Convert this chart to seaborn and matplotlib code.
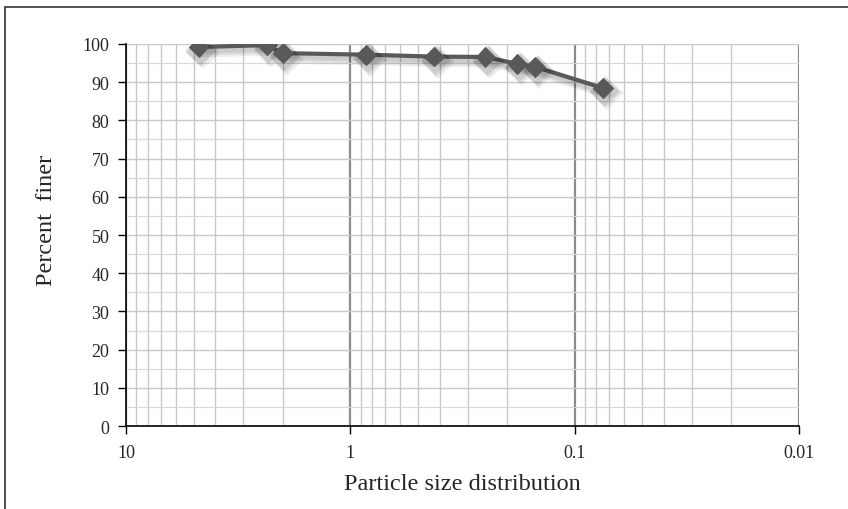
import matplotlib
matplotlib.use("Agg")
import matplotlib.pyplot as plt
import matplotlib.patheffects as pe
from matplotlib.patches import Rectangle
from matplotlib.ticker import LogLocator, FixedLocator, MultipleLocator
import seaborn as sns
import pandas as pd

# sieve data
size_mm = [4.75, 2.36, 2.0, 0.85, 0.425, 0.25, 0.18, 0.15, 0.075]
pct_finer = [99.2, 99.7, 97.6, 97.2, 96.7, 96.6, 94.8, 94.0, 88.5]
x_ticks = [10, 1, 0.1, 0.01]
x_tick_labels = ["10", "1", "0.1", "0.01"]
y_ticks = list(range(0, 101, 10))

df = pd.DataFrame({"size": size_mm, "finer": pct_finer})

sns.set_style("white")
plt.rcParams["font.family"] = ["Liberation Serif", "DejaVu Serif"]

fig = plt.figure(figsize=(8.48, 5.10), dpi=100)
ax = fig.add_axes([0.1486, 0.1627, 0.7936, 0.7491])

# figure border
fig.patches.append(Rectangle((5 / 848, -0.1), 1.2, 1 - 8 / 510 + 0.1, transform=fig.transFigure,
                             fill=False, edgecolor="#333333", linewidth=1.2, zorder=-1))

# soft drop shadow, faked with a few offset copies
shadow = [pe.SimpleLineShadow(offset=(o, -o - 1), shadow_color="black", alpha=0.07, linewidth=4 + o)
          for o in (1, 2, 3)]
sns.lineplot(data=df, x="size", y="finer", ax=ax, color="#595959", linewidth=3,
             marker="D", markersize=10, markeredgecolor="#595959",
             path_effects=shadow + [pe.Normal()])

ax.set_xscale("log")
ax.set_xlim(10, 0.01)
ax.set_ylim(0, 100)
ax.xaxis.set_major_locator(FixedLocator(x_ticks))
ax.set_xticklabels(x_tick_labels, fontsize=13)
ax.xaxis.set_minor_locator(LogLocator(base=10, subs=range(2, 10)))
ax.xaxis.set_minor_formatter(plt.NullFormatter())
ax.yaxis.set_major_locator(FixedLocator(y_ticks))
ax.set_yticklabels([str(v) for v in y_ticks], fontsize=13)
ax.yaxis.set_minor_locator(MultipleLocator(5))

ax.grid(which="major", axis="x", color="#8c8c8c", linewidth=1.6)
ax.grid(which="minor", axis="x", color="#c8c8c8", linewidth=1.0)
ax.grid(which="major", axis="y", color="#c8c8c8", linewidth=1.0)
ax.grid(which="minor", axis="y", color="#d8d8d8", linewidth=0.9)
ax.set_axisbelow(True)

for s in ["top", "right"]:
    ax.spines[s].set_visible(False)
for s in ["left", "bottom"]:
    ax.spines[s].set_color("black")
    ax.spines[s].set_linewidth(1.2)

ax.tick_params(axis="both", which="major", direction="out", length=6, width=1,
               color="black", left=True, bottom=True)
ax.tick_params(axis="both", which="minor", length=0)
ax.tick_params(axis="x", pad=7)
ax.tick_params(axis="y", pad=6)

ax.set_xlabel("Particle size distribution", fontsize=17.5)
ax.set_ylabel("Percent  finer", fontsize=17.5)
ax.xaxis.set_label_coords(0.5, -0.124)
ax.yaxis.set_label_coords(-0.102, 0.54)

fig.savefig("out.png", dpi=100)
